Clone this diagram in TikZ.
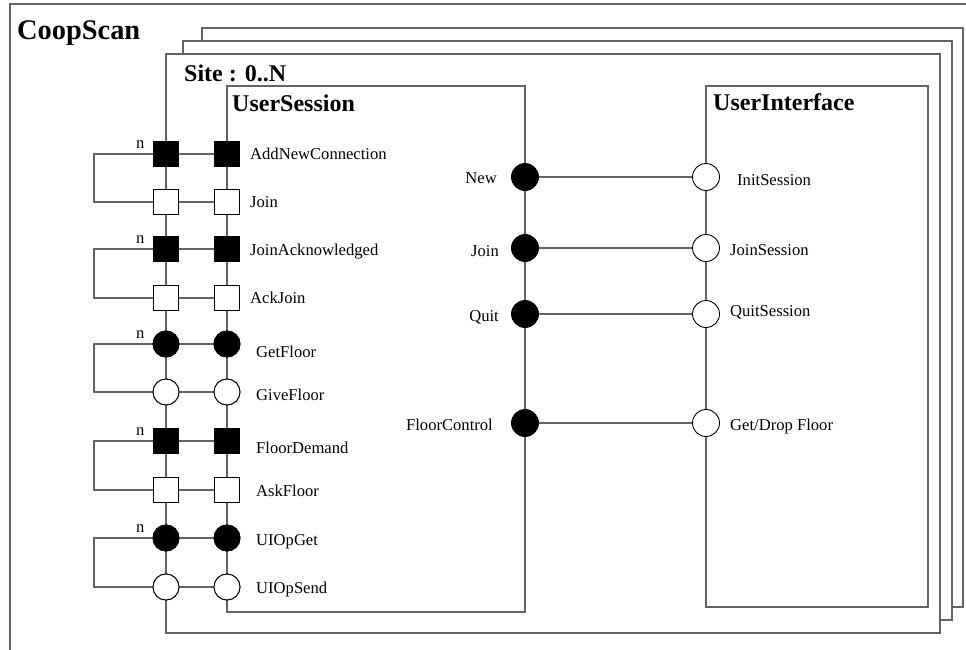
\documentclass[tikz,border=0pt]{standalone}
\usepackage{fontspec}
\setmainfont{Liberation Serif}
\definecolor{fr}{RGB}{100,100,100}
\begin{document}
\begin{tikzpicture}[x=1pt,y=-1pt,
  frame/.style={draw=fr, line width=1.3pt, fill=white},
  wire/.style={draw=fr, line width=1.3pt},
  sqf/.style={rectangle, draw=black, fill=black, minimum size=25pt, inner sep=0pt, line width=0.9pt},
  sqo/.style={rectangle, draw=black, fill=white, minimum size=25pt, inner sep=0pt, line width=0.9pt},
  cf/.style={circle, draw=black, fill=black, minimum size=26pt, inner sep=0pt, line width=0.9pt},
  co/.style={circle, draw=black, fill=white, minimum size=26pt, inner sep=0pt, line width=0.9pt},
  lbl/.style={font=\fontsize{16.6}{18}\selectfont, inner sep=0pt},
  hdr/.style={font=\fontsize{24}{28}\selectfont\bfseries, inner sep=0pt}
]
\useasboundingbox (0,0) rectangle (966,650);
% outer frame (clipped by the picture edges)
\draw[wire] (10,650) -- (10,4) -- (966,4);
\node[hdr, font=\fontsize{28.4}{32}\selectfont\bfseries, anchor=base west] (coop) at (17,40) {CoopScan};
% stacked site frames
\draw[frame] (202,28) rectangle (963,607);
\draw[frame] (183,41) rectangle (952,620);
\draw[frame] (166,54) rectangle (940,633);
\node[hdr, anchor=base west] (site) at (184,82) {Site : 0..N};
% components
\draw[frame] (227,86) rectangle (525,612);
\node[hdr, anchor=base west] (us) at (232,112) {UserSession};
\draw[frame] (706,86) rectangle (928,607);
\node[hdr, anchor=base west] (ui) at (713,111) {UserInterface};
\coordinate (loopx) at (94,0);
% left ports: column a (site border), column b (UserSession border)
\node[sqf] (a1) at (166,154) {}; \node[sqf] (b1) at (227,154) {};
\node[sqo] (a2) at (166,202) {}; \node[sqo] (b2) at (227,202) {};
\node[sqf] (a3) at (166,249) {}; \node[sqf] (b3) at (227,249) {};
\node[sqo] (a4) at (166,298) {}; \node[sqo] (b4) at (227,298) {};
\node[cf] (a5) at (166,344) {}; \node[cf] (b5) at (227,344) {};
\node[co] (a6) at (166,392) {}; \node[co] (b6) at (227,392) {};
\node[sqf] (a7) at (166,441) {}; \node[sqf] (b7) at (227,441) {};
\node[sqo] (a8) at (166,490) {}; \node[sqo] (b8) at (227,490) {};
\node[cf] (a9) at (166,538) {}; \node[cf] (b9) at (227,538) {};
\node[co] (a10) at (166,587) {}; \node[co] (b10) at (227,587) {};
\foreach \i in {1,...,10} {\draw[wire] (a\i) -- (b\i);}
\foreach \i/\j in {1/2,3/4,5/6,7/8,9/10} {
  \draw[wire] (a\i.west) -- (a\i.west -| loopx) |- (a\j.west);
}
% redraw ports on top
\foreach \i/\s in {1/sqf,2/sqo,3/sqf,4/sqo,5/cf,6/co,7/sqf,8/sqo,9/cf,10/co} {
  \node[\s] at (a\i) {}; \node[\s] at (b\i) {};
}
\node[lbl, anchor=base west] (n1) at (136,148) {n};
\node[lbl, anchor=base west] (n3) at (136,243) {n};
\node[lbl, anchor=base west] (n5) at (136,338) {n};
\node[lbl, anchor=base west] (n7) at (136,435) {n};
\node[lbl, anchor=base west] (n9) at (136,532) {n};
\node[lbl, anchor=base west] (l1) at (250,160) {AddNewConnection};
\node[lbl, anchor=base west] (l2) at (250,207) {Join};
\node[lbl, anchor=base west] (l3) at (250,255) {JoinAcknowledged};
\node[lbl, anchor=base west] (l4) at (250,303) {AckJoin};
\node[lbl, anchor=base west] (l5) at (256,357) {GetFloor};
\node[lbl, anchor=base west] (l6) at (256,400) {GiveFloor};
\node[lbl, anchor=base west] (l7) at (256,453) {FloorDemand};
\node[lbl, anchor=base west] (l8) at (256,496) {AskFloor};
\node[lbl, anchor=base west] (l9) at (256,545) {UIOpGet};
\node[lbl, anchor=base west] (l10) at (256,593) {UIOpSend};
% middle ports
\node[cf, minimum size=27pt] (m1) at (525,177) {};
\node[cf, minimum size=27pt] (m2) at (525,248) {};
\node[cf, minimum size=27pt] (m3) at (525,314) {};
\node[cf, minimum size=27pt] (m4) at (525,423) {};
\node[co, minimum size=27pt] (u1) at (706,177) {};
\node[co, minimum size=27pt] (u2) at (706,248) {};
\node[co, minimum size=27pt] (u3) at (706,314) {};
\node[co, minimum size=27pt] (u4) at (706,423) {};
\foreach \i in {1,...,4} {\draw[wire] (m\i) -- (u\i);}
\node[lbl, anchor=base east] (ml1) at (497,183) {New};
\node[lbl, anchor=base east] (ml2) at (499,256) {Join};
\node[lbl, anchor=base east] (ml3) at (499,321) {Quit};
\node[lbl, anchor=base east] (ml4) at (493,430) {FloorControl};
\node[lbl, anchor=base west] (ul1) at (737,185) {InitSession};
\node[lbl, anchor=base west] (ul2) at (730,255) {JoinSession};
\node[lbl, anchor=base west] (ul3) at (730,316) {QuitSession};
\node[lbl, anchor=base west] (ul4) at (730,430) {Get/Drop Floor};
\end{tikzpicture}
\end{document}
